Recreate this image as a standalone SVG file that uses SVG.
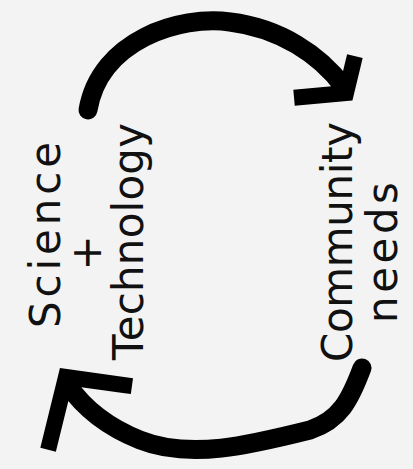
<svg xmlns="http://www.w3.org/2000/svg" width="413" height="469" viewBox="0 0 413 469">
<style>
.lbl{font-family:"DejaVu Sans","Liberation Sans",sans-serif;font-size:42px;fill:#111;}
.arc{fill:none;stroke:#000;stroke-width:19;stroke-linecap:round;stroke-linejoin:round;}
.head{fill:none;stroke:#000;stroke-width:16;stroke-linecap:square;stroke-linejoin:miter;}
</style>
<rect width="413" height="469" fill="#f3f3f3"/>
<g id="connectors">
<path class="arc" d="M88,110 C100,40 180,15 230,22 C280,28 320,55 343,86"/>
<polyline class="head" points="353,64 346,93 302,97"/>
<path class="arc" d="M362,368 C350,400 340,420 310,430 C250,445 190,460 140,440 C110,428 85,410 68,385"/>
<polyline class="head" points="124,385 66,377 50,442"/>
</g>
<g id="science-technology">
<text class="lbl" transform="translate(60,328) rotate(-90)" textLength="186" lengthAdjust="spacing">Science</text>
<text class="lbl" transform="translate(101,253) rotate(-90)" text-anchor="middle">+</text>
<text class="lbl" transform="translate(143,360) rotate(-90)" textLength="237" lengthAdjust="spacing">Technology</text>
</g>
<g id="community-needs">
<text class="lbl" transform="translate(352,362) rotate(-90)" textLength="240" lengthAdjust="spacing">Community</text>
<text class="lbl" transform="translate(397,323) rotate(-90)" textLength="141" lengthAdjust="spacing">needs</text>
</g>
</svg>
